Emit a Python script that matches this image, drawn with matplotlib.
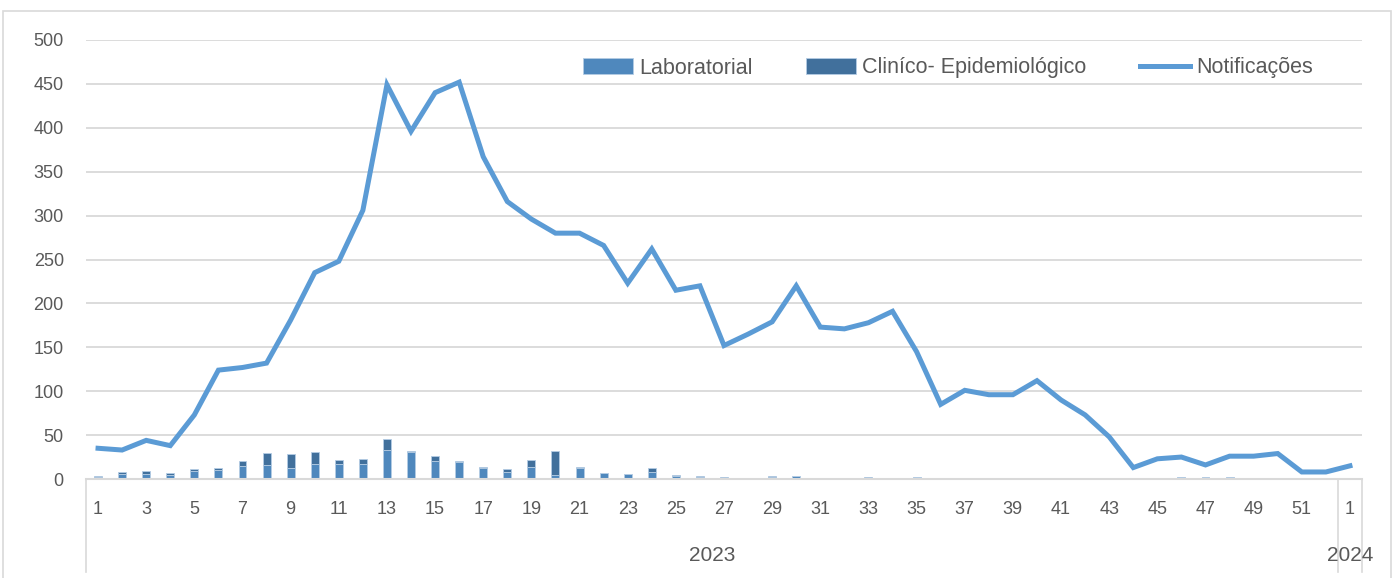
import matplotlib.pyplot as plt
from matplotlib.patches import Rectangle
from matplotlib.lines import Line2D
from matplotlib.transforms import blended_transform_factory

# Weekly notifications and confirmation criterion, 2023 wk1 .. 2024 wk1

weeks = list(range(1, 53)) + [1]
years = ["2023", "2024"]

notificacoes = [35, 33, 44, 38, 73, 124, 127, 132, 181, 235,
                248, 306, 449, 396, 440, 452, 367, 316, 296, 280,
                280, 266, 223, 262, 215, 220, 152, 165, 179, 220,
                173, 171, 178, 191, 145, 85, 101, 96, 96, 112,
                90, 73, 48, 13, 23, 25, 16, 26, 26, 29,
                8, 8, 15]

laboratorial = [2, 6, 6, 5, 9, 10, 15, 16, 13, 17,
                17, 17, 33, 31, 21, 19, 13, 8, 14, 5,
                13, 7, 6, 8, 3, 2, 1, 1, 2, 3,
                0, 0, 1, 1, 2, 1, 1, 0, 0, 1,
                0, 1, 0, 1, 0, 2, 2, 2, 1, 1,
                0, 0, 0]

clinico = [1, 2, 3, 2, 2, 2, 5, 14, 15, 14,
           5, 6, 12, 1, 5, 1, 1, 3, 8, 27,
           1, 0, 0, 5, 2, 1, 1, 0, 1, 0,
           0, 0, 1, 0, 0, 0, 0, 0, 0, 0,
           0, 0, 0, 0, 0, 0, 0, 0, 0, 0,
           0, 0, 0]

plt.rcParams['font.family'] = ['Liberation Sans', 'DejaVu Sans']
txt_color = "#595959"
grid_color = "#D9D9D9"

fig = plt.figure(figsize=(13.94, 5.78), dpi=100)
W, H = 1394, 578

# outer chart border
fig.patches.append(Rectangle((3 / W, -0.02), 1388 / W, (H - 11) / H + 0.02,
                             transform=fig.transFigure, fill=False,
                             edgecolor=grid_color, linewidth=1.2))

ax = fig.add_axes([86 / W, 99 / H, (1362 - 86) / W, 439 / H])

x = list(range(len(weeks)))
b1 = ax.bar(x, laboratorial, width=0.33, color="#4F88BD", edgecolor="#B4CCE4",
            linewidth=0.6, zorder=2, label="Laboratorial")
b2 = ax.bar(x, clinico, width=0.33, bottom=laboratorial, color="#41709C",
            edgecolor="#B4CCE4", linewidth=0.6, zorder=2,
            label="Cliníco- Epidemiológico")
l1, = ax.plot(x, notificacoes, color="#5B9BD5", linewidth=3.6, zorder=3,
              solid_joinstyle="miter", label="Notificações")

ax.set_xlim(-0.5, len(weeks) - 0.5)
ax.set_ylim(0, 500)
ax.set_yticks(range(0, 501, 50))
ax.grid(axis="y", color=grid_color, linewidth=1.3, zorder=0)
ax.set_axisbelow(True)
for s in ["top", "right", "left"]:
    ax.spines[s].set_visible(False)
ax.spines["bottom"].set_color(grid_color)
ax.spines["bottom"].set_linewidth(1.5)

ax.set_xticks(x)
ax.set_xticklabels([str(w) if i % 2 == 0 else "" for i, w in enumerate(weeks)])
ax.tick_params(axis="x", length=0, pad=16, labelsize=13, labelcolor=txt_color)
ax.tick_params(axis="y", length=0, pad=16, labelsize=13, labelcolor=txt_color)

# multi-level category axis: year labels and separators
tr = blended_transform_factory(ax.transData, ax.transAxes)
ax.text(25.5, -0.175, years[0], transform=tr, ha="center", va="center",
        fontsize=15, color=txt_color)
ax.text(52, -0.175, years[1], transform=tr, ha="center", va="center",
        fontsize=15, color=txt_color)
for xs in [-0.5, 51.5, 52.5]:
    ax.add_line(Line2D([xs, xs], [0, -0.212], transform=tr, color=grid_color,
                       linewidth=1.2, clip_on=False))

ax.legend(handles=[b1, b2, l1], loc="center left",
          bbox_to_anchor=(583 / W, 510 / H),
          bbox_transform=fig.transFigure, ncol=3, frameon=False,
          fontsize=15.5, labelcolor=txt_color, handlelength=2.3,
          handleheight=0.75, handletextpad=0.3, columnspacing=2.5,
          borderpad=0, borderaxespad=0)

plt.savefig("out.png", dpi=100)
